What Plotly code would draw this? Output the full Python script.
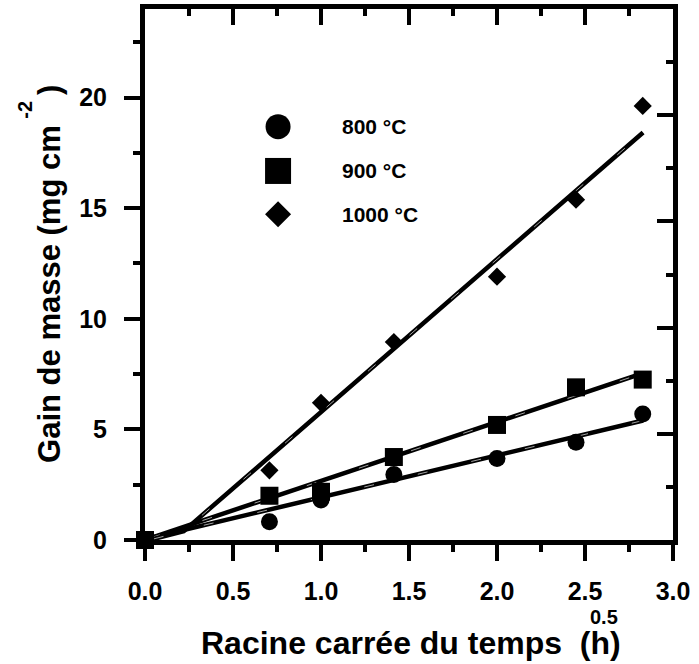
import plotly.graph_objects as go

# ---------------- data ----------------
sqrt_time = [0.0, 0.707, 1.0, 1.414, 2.0, 2.449, 2.828]
gain_800 = [0.0, 0.83, 1.81, 2.96, 3.68, 4.42, 5.70]
gain_900 = [0.0, 2.00, 2.18, 3.75, 5.20, 6.90, 7.25]
gain_1000 = [0.0, 3.15, 6.20, 8.95, 11.90, 15.38, 19.62]

fit_x_800 = [0.03, 2.83]
fit_y_800 = [0.09, 5.40]
fit_x_900 = [0.03, 2.83]
fit_y_900 = [0.09, 7.54]
fit_x_1000 = [0.05, 0.22, 2.83]
fit_y_1000 = [0.05, 0.40, 18.42]

series_names = ["800 °C", "900 °C", "1000 °C"]
x_ticks = [0.0, 0.5, 1.0, 1.5, 2.0, 2.5, 3.0]
y_ticks = [0, 5, 10, 15, 20]

# ---------------- style ----------------
FONT = "Liberation Sans, Arial, sans-serif"
BLACK = "black"
W, H = 699, 664
L, R, T, B = 145, 21, 9, 124

fig = go.Figure()

fits = [(fit_x_800, fit_y_800), (fit_x_900, fit_y_900), (fit_x_1000, fit_y_1000)]
for fx, fy in fits:
    fig.add_trace(go.Scatter(x=fx, y=fy, mode="lines",
                             line=dict(color=BLACK, width=4.5),
                             showlegend=False, hoverinfo="skip"))
    fig.add_trace(go.Scatter(x=fx, y=fy, mode="lines",
                             line=dict(color="white", width=0.8, dash="10px,45px"),
                             opacity=0.8, showlegend=False, hoverinfo="skip"))

symbols = ["circle", "square", "diamond"]
sizes = [17, 18, 14]
for gy, sym, sz, nm in zip([gain_800, gain_900, gain_1000], symbols, sizes, series_names):
    fig.add_trace(go.Scatter(x=sqrt_time, y=gy, mode="markers", name=nm,
                             marker=dict(symbol=sym, size=sz, color=BLACK, line=dict(width=0)),
                             cliponaxis=False, showlegend=False))

# manual legend (key markers placed in the plot area)
leg_mx = 0.756
leg_y = [18.68, 16.68, 14.72]
leg_tx = 1.107
fig.add_trace(go.Scatter(x=[leg_mx] * 3, y=leg_y, mode="markers",
                         marker=dict(symbol=symbols, size=[25, 26, 20], color=BLACK,
                                     line=dict(width=0), opacity=1),
                         showlegend=False, hoverinfo="skip", cliponaxis=False))

# invisible trace so the mirrored top/right axes are drawn
fig.add_trace(go.Scatter(x=[1.5], y=[12], mode="markers", marker=dict(opacity=0),
                         xaxis="x2", yaxis="y2", showlegend=False, hoverinfo="skip"))

annotations = []
for nm, ly in zip(series_names, leg_y):
    annotations.append(dict(x=leg_tx, y=ly, xref="x", yref="y", text=nm, showarrow=False,
                            xanchor="left", yanchor="middle",
                            font=dict(family=FONT, size=21, color=BLACK, weight="bold")))

def px(xp):
    return (xp - L) / (W - L - R)

def py(yp):
    return (H - B - yp) / (H - B - T)

# axis titles
annotations.append(dict(x=px(414), y=py(643), xref="paper", yref="paper",
                        text="Racine carrée du temps  (h)", showarrow=False,
                        xanchor="center", yanchor="middle",
                        font=dict(family=FONT, size=32, color=BLACK, weight="bold")))
annotations.append(dict(x=px(608), y=py(617), xref="paper", yref="paper",
                        text="0.5", showarrow=False, xanchor="center", yanchor="middle",
                        font=dict(family=FONT, size=20, color=BLACK, weight="bold")))
annotations.append(dict(x=px(48), y=py(294), xref="paper", yref="paper",
                        text="Gain de masse (mg cm", showarrow=False, textangle=-90,
                        xanchor="center", yanchor="middle",
                        font=dict(family=FONT, size=31, color=BLACK, weight="bold")))
annotations.append(dict(x=px(48), y=py(90), xref="paper", yref="paper",
                        text=")", showarrow=False, textangle=-90,
                        xanchor="center", yanchor="middle",
                        font=dict(family=FONT, size=31, color=BLACK, weight="bold")))
annotations.append(dict(x=px(24), y=py(109.5), xref="paper", yref="paper",
                        text="-2", showarrow=False, textangle=-90,
                        xanchor="center", yanchor="middle",
                        font=dict(family=FONT, size=20, color=BLACK, weight="bold")))

axis_common = dict(showline=True, linewidth=5, linecolor=BLACK, showgrid=False,
                   zeroline=False, tickwidth=4, tickcolor=BLACK, ticklen=16)

fig.update_layout(
    width=W, height=H, autosize=False,
    margin=dict(l=L, r=R, t=T, b=B, pad=0),
    plot_bgcolor="white", paper_bgcolor="white",
    showlegend=False,
    font=dict(family=FONT, color=BLACK),
    xaxis=dict(range=[0, 3], tickvals=x_ticks, ticktext=[f"{v:.1f}" for v in x_ticks],
               ticks="outside", anchor="y", ticklabelstandoff=9,
               tickfont=dict(family=FONT, size=25, color=BLACK, weight="bold"),
               minor=dict(dtick=0.25, tick0=0, ticks="outside", ticklen=7, tickwidth=4, tickcolor=BLACK),
               **axis_common),
    yaxis=dict(range=[0, 24], tickvals=y_ticks, ticktext=[str(v) for v in y_ticks],
               ticks="outside", anchor="x", ticklabelstandoff=12,
               tickfont=dict(family=FONT, size=25, color=BLACK, weight="bold"),
               minor=dict(dtick=2.5, tick0=0, ticks="outside", ticklen=7, tickwidth=4, tickcolor=BLACK),
               **axis_common),
    xaxis2=dict(range=[0, 3], overlaying="x", side="top", anchor="y2",
                dtick=0.5, tick0=0, ticks="inside", showticklabels=False,
                minor=dict(dtick=0.25, tick0=0, ticks="inside", ticklen=7, tickwidth=4, tickcolor=BLACK),
                **axis_common),
    yaxis2=dict(range=[0, 25], overlaying="y", side="right", anchor="x2",
                dtick=5, tick0=0, ticks="inside", showticklabels=False,
                minor=dict(dtick=2.5, tick0=0, ticks="inside", ticklen=7, tickwidth=4, tickcolor=BLACK),
                **axis_common),
    annotations=annotations,
)

fig.write_html("out.html")
